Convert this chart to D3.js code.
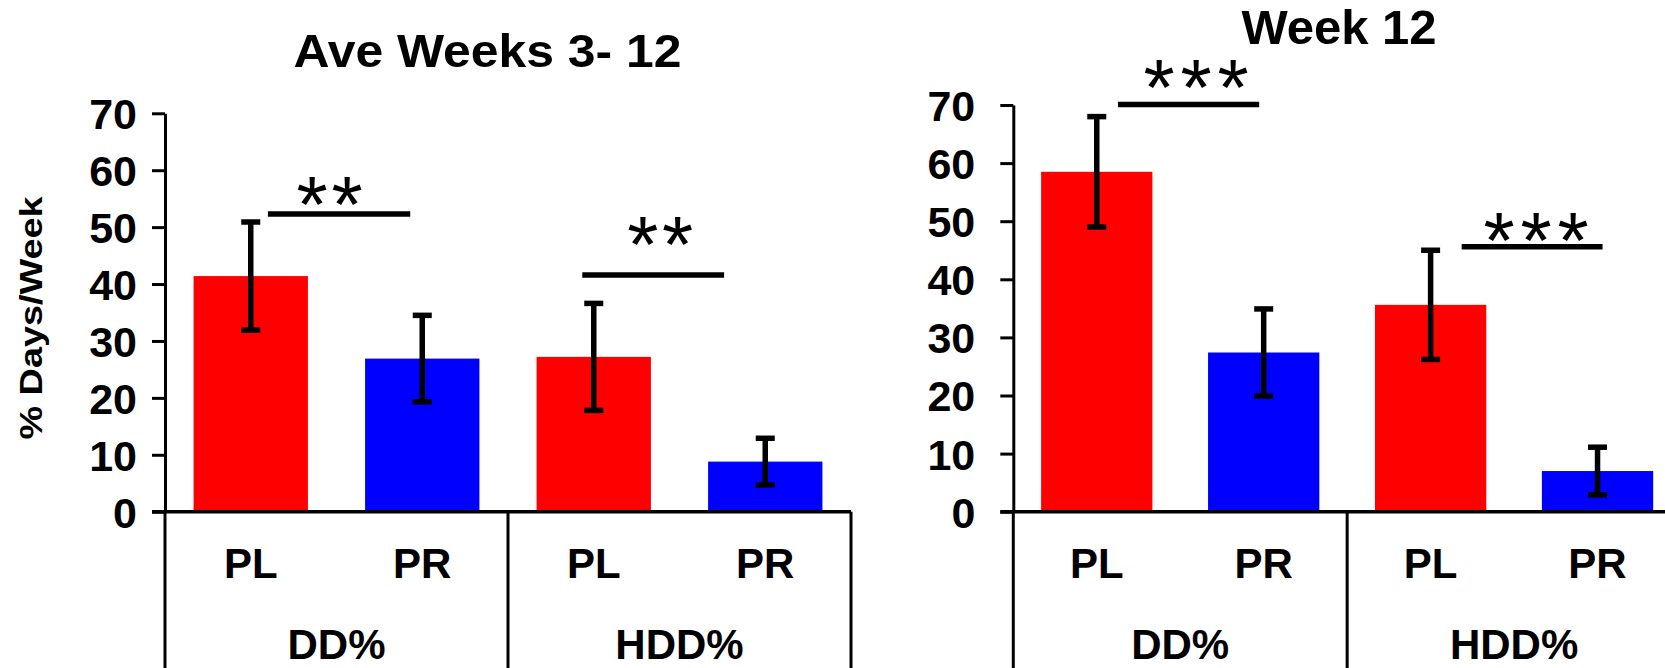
<!DOCTYPE html>
<html>
<head>
<meta charset="utf-8">
<script src="https://cdn.jsdelivr.net/npm/d3@7"></script>
<style>
  body { margin: 0; background: #fff; }
  svg { display: block; font-family: "Liberation Sans", Arial, sans-serif; }
</style>
</head>
<body>
<svg id="chart" width="1665" height="668"></svg>
<script>
// ---- data ----
const groups = ["DD%", "HDD%"];
const arms = ["PL", "PR"];
const yTicks = [0, 10, 20, 30, 40, 50, 60, 70];

// Average over weeks 3-12 (order: DD% PL, DD% PR, HDD% PL, HDD% PR)
const aveMeans  = [41.4, 26.9, 27.2, 8.8];
const aveErrors = [9.5, 7.6, 9.4, 4.1];

// Week 12
const wk12Means  = [58.5, 27.4, 35.6, 7.0];
const wk12Errors = [9.5, 7.5, 9.4, 4.1];

// significance brackets: bar height level and star label
const aveSigLevels  = [52.3, 41.6];
const aveSigLabels  = ["**", "**"];
const wk12SigLevels = [70.1, 45.6];
const wk12SigLabels = ["***", "***"];

const armColors = { PL: "#ff0000", PR: "#0000ff" };

// ---- layout ----
const svg = d3.select("#chart");
const H = 668;

const panels = [
  {
    title: "Ave Weeks 3- 12", titleX: 487.5, titleY: 67, titleSize: 47, titleLen: 388,
    xRange: [165, 851], yRange: [511.7, 113.3], tickLabelGap: 28,
    means: aveMeans, errors: aveErrors,
    sigLevels: aveSigLevels, sigLabels: aveSigLabels,
    // bracket extents in slot units, label offset in px
    sigSpans: [[0.60, 1.43], [2.433, 3.26]],
    sigText: [[-9.5, -28], [7, -49]],
    yTitle: "% Days/Week"
  },
  {
    title: "Week 12", titleX: 1339, titleY: 44, titleSize: 49, titleLen: null,
    xRange: [1013.3, 1681], yRange: [511.7, 105], tickLabelGap: 38,
    means: wk12Means, errors: wk12Errors,
    sigLevels: wk12SigLevels, sigLabels: wk12SigLabels,
    sigSpans: [[0.627, 1.473], [2.686, 3.53]],
    sigText: [[7.5, -35], [4, -24]],
    yTitle: null
  }
];

const keys = [];
groups.forEach(g => arms.forEach(a => keys.push({ group: g, arm: a, key: g + "|" + a })));

panels.forEach(p => {
  const y = d3.scaleLinear().domain([0, 70]).range(p.yRange);
  const x = d3.scaleBand().domain(keys.map(k => k.key)).range(p.xRange)
    .paddingInner(1 / 3).paddingOuter(1 / 6);
  const slot = d3.scaleLinear().domain([0, keys.length]).range(p.xRange);
  const xg = d3.scaleBand().domain(groups).range(p.xRange);
  const g = svg.append("g");

  // title
  const t = g.append("text")
    .attr("x", p.titleX).attr("y", p.titleY)
    .attr("text-anchor", "middle")
    .attr("font-size", p.titleSize).attr("font-weight", "bold")
    .text(p.title);
  if (p.titleLen) t.attr("textLength", p.titleLen).attr("lengthAdjust", "spacingAndGlyphs");

  // bars
  const rows = keys.map((k, i) => ({ ...k, mean: p.means[i], err: p.errors[i] }));
  g.selectAll("rect.bar").data(rows).join("rect")
    .attr("class", "bar")
    .attr("x", d => x(d.key))
    .attr("width", x.bandwidth())
    .attr("y", d => y(d.mean))
    .attr("height", d => y(0) - y(d.mean))
    .attr("fill", d => armColors[d.arm]);

  // error bars
  const capW = 19;
  const eb = g.selectAll("g.err").data(rows).join("g").attr("class", "err")
    .attr("stroke", "#000").attr("stroke-width", 5.5);
  const cxOf = d => x(d.key) + x.bandwidth() / 2;
  eb.append("line")
    .attr("x1", cxOf).attr("x2", cxOf)
    .attr("y1", d => y(d.mean + d.err)).attr("y2", d => y(d.mean - d.err));
  eb.append("line")
    .attr("x1", d => cxOf(d) - capW / 2).attr("x2", d => cxOf(d) + capW / 2)
    .attr("y1", d => y(d.mean + d.err)).attr("y2", d => y(d.mean + d.err));
  eb.append("line")
    .attr("x1", d => cxOf(d) - capW / 2).attr("x2", d => cxOf(d) + capW / 2)
    .attr("y1", d => y(d.mean - d.err)).attr("y2", d => y(d.mean - d.err));

  // y axis
  const yAxis = g.append("g")
    .attr("transform", `translate(${p.xRange[0]},0)`)
    .call(d3.axisLeft(y).tickValues(yTicks).tickSize(13).tickSizeOuter(0)
      .tickPadding(p.tickLabelGap - 13));
  yAxis.selectAll(".domain").attr("stroke", "#000").attr("stroke-width", 3);
  yAxis.selectAll(".tick line").attr("stroke", "#000").attr("stroke-width", 3);
  yAxis.selectAll(".tick text")
    .attr("dy", "0.36em")
    .attr("font-family", "'Liberation Sans', Arial, sans-serif")
    .attr("font-size", 43).attr("font-weight", "bold").attr("fill", "#000");

  // baseline
  g.append("line")
    .attr("x1", p.xRange[0] - 13).attr("x2", p.xRange[1])
    .attr("y1", y(0)).attr("y2", y(0))
    .attr("stroke", "#000").attr("stroke-width", 3.5);

  // group separators below the axis
  g.selectAll("line.sep").data([0, 2, 4]).join("line")
    .attr("class", "sep")
    .attr("x1", d => slot(d)).attr("x2", d => slot(d))
    .attr("y1", y(0)).attr("y2", H)
    .attr("stroke", "#000").attr("stroke-width", 3);

  // arm labels
  g.selectAll("text.arm").data(rows).join("text")
    .attr("class", "arm")
    .attr("x", cxOf).attr("y", 578)
    .attr("text-anchor", "middle")
    .attr("font-size", 42).attr("font-weight", "bold")
    .text(d => d.arm);

  // group labels
  g.selectAll("text.grp").data(groups).join("text")
    .attr("class", "grp")
    .attr("x", d => xg(d) + xg.bandwidth() / 2).attr("y", 659)
    .attr("text-anchor", "middle")
    .attr("font-size", 42).attr("font-weight", "bold")
    .text(d => d);

  // significance brackets
  p.sigLevels.forEach((lvl, i) => {
    const [s0, s1] = p.sigSpans[i];
    const ly = y(lvl);
    g.append("line")
      .attr("x1", slot(s0)).attr("x2", slot(s1))
      .attr("y1", ly).attr("y2", ly)
      .attr("stroke", "#000").attr("stroke-width", 5.5);
    const cx = (slot(s0) + slot(s1)) / 2 + p.sigText[i][0];
    const cy = ly + p.sigText[i][1];
    const n = p.sigLabels[i].length;
    g.append("text")
      .attr("x", cx).attr("y", cy + 0.57 * 80)
      .attr("text-anchor", "middle")
      .attr("font-size", 80)
      .attr("textLength", n * 27 + (n - 1) * 12)
      .attr("lengthAdjust", "spacing")
      .text(p.sigLabels[i]);
  });

  // y-axis title
  if (p.yTitle) {
    g.append("text")
      .attr("transform", "translate(42,318) rotate(-90)")
      .attr("text-anchor", "middle")
      .attr("font-size", 31).attr("font-weight", "bold")
      .attr("textLength", 243).attr("lengthAdjust", "spacingAndGlyphs")
      .text(p.yTitle);
  }
});
</script>
</body>
</html>
